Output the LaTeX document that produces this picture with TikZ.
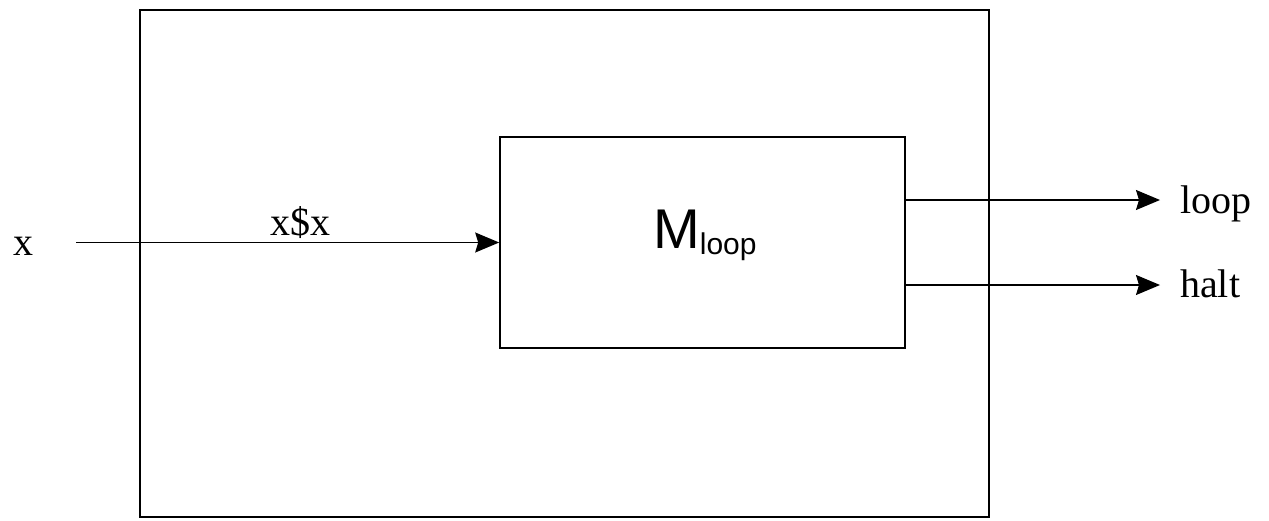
\documentclass[tikz,border=0pt]{standalone}
\usepackage{fontspec}
\setmainfont{Liberation Serif}
\newfontfamily\helv{Liberation Sans}
\usetikzlibrary{arrows.meta}
\tikzset{
  box/.style={draw, line width=1.6pt, inner sep=0pt},
  flow/.style={line width=1.4pt, -{Stealth[length=24pt,width=20pt,inset=3pt]}},
  lbl/.style={inner sep=0pt, font=\fontsize{40}{48}\selectfont},
}
\begin{document}
\begin{tikzpicture}[x=1pt,y=-1pt]
  \useasboundingbox (0,0) rectangle (1269,520);
  % enclosing machine
  \node[box, minimum width=849pt, minimum height=507pt] (outer) at (564.5,263.5) {};
  % inner machine M_loop
  \node[box, minimum width=405pt, minimum height=211pt] (inner) at (702.5,242.5) {};
  \node[inner sep=0pt, anchor=base west] (mname) at (653,248)
    {\helv\fontsize{56}{60}\selectfont M\raisebox{-6pt}{\fontsize{30}{34}\selectfont loop}};
  % input
  \node[lbl, anchor=base] (xin) at (23.5,255) {x};
  \coordinate (xstart) at (76,242.5);
  \draw[flow] (xstart) -- (inner.west);
  \node[lbl, anchor=base] (dup) at (300.5,235) {x\$x};
  % outputs
  \coordinate (loopstart) at (905,200);
  \coordinate (loopend) at (1160,200);
  \coordinate (haltstart) at (905,285);
  \coordinate (haltend) at (1160,285);
  \draw[flow] (loopstart) -- (loopend);
  \draw[flow] (haltstart) -- (haltend);
  \node[lbl, anchor=base west] (loop) at (1180,213) {loop};
  \node[lbl, anchor=base west] (halt) at (1180,297) {halt};
\end{tikzpicture}
\end{document}
